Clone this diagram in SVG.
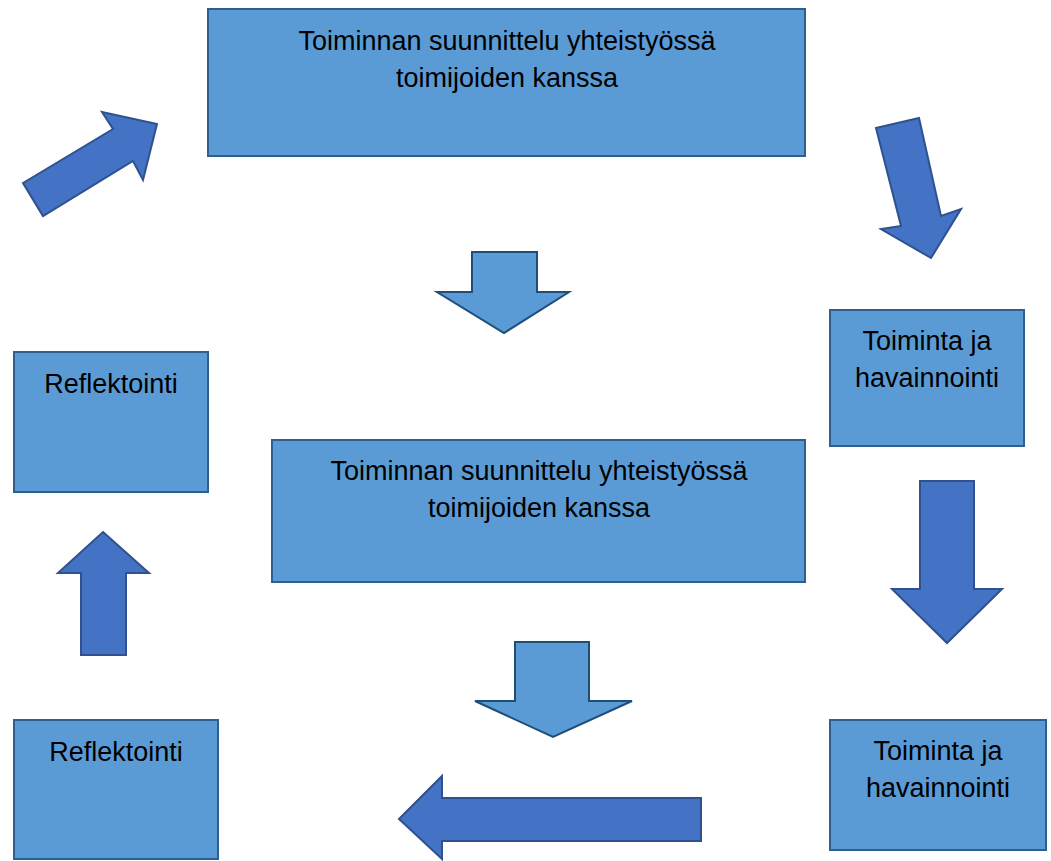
<svg xmlns="http://www.w3.org/2000/svg" width="1051" height="861" viewBox="0 0 1051 861">
<style>
.box{fill:#5B9BD5;stroke:#2F5F8F;stroke-width:2}
.light{fill:#5B9BD5;stroke:#1F4E79;stroke-width:2;stroke-linejoin:miter}
.dark{fill:#4472C4;stroke:#2F528F;stroke-width:2;stroke-linejoin:miter}
text{font-family:"Liberation Sans",Arial,sans-serif;font-size:27px;fill:#000;text-anchor:middle}
</style>
<rect width="1051" height="861" fill="#fff"/>
<g id="top-plan">
<rect class="box" x="208" y="9" width="597" height="147"/>
<text x="507" y="50">Toiminnan suunnittelu yhteistyössä</text>
<text x="507" y="87">toimijoiden kanssa</text>
</g>
<g id="middle-plan">
<rect class="box" x="272" y="440" width="533" height="142"/>
<text x="539" y="480">Toiminnan suunnittelu yhteistyössä</text>
<text x="539" y="517">toimijoiden kanssa</text>
</g>
<g id="action-1">
<rect class="box" x="830" y="310" width="194" height="136"/>
<text x="927" y="350">Toiminta ja</text>
<text x="927" y="387">havainnointi</text>
</g>
<g id="action-2">
<rect class="box" x="830" y="720" width="216" height="130"/>
<text x="938" y="760">Toiminta ja</text>
<text x="938" y="797">havainnointi</text>
</g>
<g id="reflection-1">
<rect class="box" x="14" y="352" width="194" height="140"/>
<text x="111" y="393">Reflektointi</text>
</g>
<g id="reflection-2">
<rect class="box" x="14" y="720" width="204" height="139"/>
<text x="116" y="761">Reflektointi</text>
</g>
<g id="connectors">
<polygon class="dark" points="23,183 113,129 102,112 157,124 143,180 133,161 43,216"/>
<polygon class="dark" points="876,128 919,118 941,216 961,209 931,258 881,229 901,226"/>
<polygon class="light" points="472,252 537,252 537,292 569,292 504,333 437,292 472,292"/>
<polygon class="dark" points="103,532 149,573 126,573 126,655 81,655 81,573 58,573"/>
<polygon class="dark" points="920,481 974,481 974,589 1002,589 947,643 892,589 920,589"/>
<polygon class="light" points="515,642 589,642 589,701 632,701 553,737 475,701 515,701"/>
<polygon class="dark" points="399,819 442,776 442,798 701,798 701,841 442,841 442,859"/>
</g>
</svg>
